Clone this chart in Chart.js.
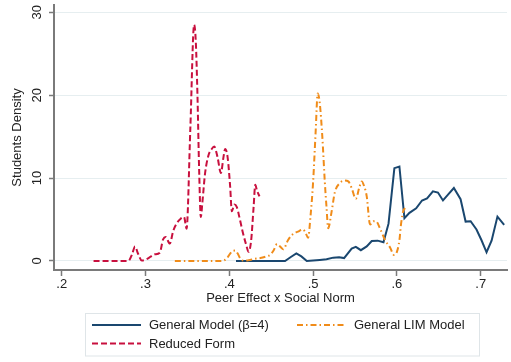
<!DOCTYPE html>
<html>
<head>
<meta charset="utf-8">
<script src="https://cdn.jsdelivr.net/npm/chart.js@4/dist/chart.umd.min.js"></script>
<style>
  html, body { margin: 0; padding: 0; background: #ffffff; }
  #wrap { width: 511px; height: 362px; position: relative; }
</style>
</head>
<body>
<div id="wrap"><canvas id="c" width="511" height="362"></canvas></div>
<script>
// Axis ticks and series labels
const xTickValues = [0.2, 0.3, 0.4, 0.5, 0.6, 0.7];
const yTickValues = [0, 10, 20, 30];
const seriesNames = ['General Model (\u03B2=4)', 'General LIM Model', 'Reduced Form'];

// General Model (beta = 4): density over peer effect x social norm
const generalX = [0.408, 0.420, 0.440, 0.455, 0.4665, 0.473, 0.480, 0.486, 0.4925, 0.500, 0.508, 0.516,
                  0.524, 0.531, 0.537, 0.546, 0.551, 0.557, 0.564, 0.570, 0.577, 0.584, 0.590, 0.597,
                  0.603, 0.609, 0.615, 0.623, 0.630, 0.636, 0.643, 0.649, 0.655, 0.661, 0.668, 0.676,
                  0.682, 0.688, 0.695, 0.701, 0.707, 0.713, 0.720, 0.728];
const generalY = [0, 0, 0, 0, 0, 0.45, 0.9, 0.55, 0, 0.05, 0.12, 0.2,
                  0.4, 0.45, 0.35, 1.5, 1.7, 1.3, 1.75, 2.4, 2.45, 2.25, 4.5, 11.2,
                  11.4, 5.15, 5.8, 6.35, 7.3, 7.55, 8.4, 8.25, 7.3, 8.0, 8.8, 7.45,
                  4.75, 4.8, 3.8, 2.5, 1.05, 2.45, 5.35, 4.35];

// General LIM Model
const limX = [0.335, 0.350, 0.370, 0.390, 0.397, 0.401, 0.404, 0.407, 0.410, 0.413, 0.416, 0.423,
              0.430, 0.437, 0.444, 0.449, 0.453, 0.457, 0.461, 0.4645, 0.470, 0.476, 0.482, 0.488,
              0.491, 0.494, 0.497, 0.500, 0.503, 0.5055, 0.508, 0.511, 0.514, 0.516, 0.518, 0.522,
              0.526, 0.532, 0.538, 0.542, 0.546, 0.551, 0.555, 0.558, 0.561, 0.564, 0.568, 0.572,
              0.575, 0.580, 0.586, 0.592, 0.5965, 0.600, 0.603, 0.605, 0.608, 0.610];
const limY = [0, 0, 0, 0, 0.3, 0.9, 1.2, 1.25, 0.9, 0.3, 0.05, 0.1,
              0.25, 0.35, 0.55, 0.75, 1.3, 2.05, 1.7, 1.4, 2.5, 3.25, 3.55, 3.8,
              3.4, 2.8, 5.5, 9.5, 15.5, 20.2, 19.0, 15.0, 9.5, 6.5, 3.95, 5.9,
              8.3, 9.4, 9.7, 9.6, 8.8, 7.5, 8.8, 9.6, 9.0, 7.8, 4.4, 4.8,
              4.8, 3.9, 2.5, 1.6, 0.72, 1.1, 2.5, 4.5, 6.15, 6.35];

// Reduced Form
const reducedX = [0.238, 0.248, 0.258, 0.268, 0.2795, 0.284, 0.2875, 0.291, 0.2955, 0.302, 0.311, 0.317,
                  0.321, 0.324, 0.329, 0.333, 0.337, 0.342, 0.346, 0.349, 0.3535, 0.358, 0.360, 0.362,
                  0.364, 0.366, 0.368, 0.371, 0.375, 0.379, 0.382, 0.386, 0.390, 0.393, 0.395, 0.398,
                  0.401, 0.403, 0.406, 0.409, 0.412, 0.416, 0.420, 0.423, 0.426, 0.429, 0.431, 0.433,
                  0.436];
const reducedY = [0, 0, 0, 0, 0, 0.8, 1.75, 0.9, 0.05, 0.25, 0.8, 1.0,
                  2.6, 2.9, 2.1, 3.6, 4.5, 5.1, 5.3, 3.9, 16.0, 28.5, 26.5, 20.0,
                  11.0, 5.3, 7.2, 10.5, 12.7, 13.5, 13.8, 12.5, 10.6, 12.5, 13.5, 12.5,
                  9.0, 6.0, 6.8, 6.5, 5.3, 3.5, 2.0, 1.1, 2.4, 6.5, 9.2, 8.5,
                  7.8];

const toPoints = (xs, ys) => xs.map((v, i) => ({ x: v, y: ys[i] }));

const FONT = '"Liberation Sans", Arial, Helvetica, sans-serif';
const INK = '#222222';
const AXIS = '#7a7a7a';

// Axis titles, rotated y tick labels and the boxed two-column legend
const decorations = {
  id: 'decorations',
  afterDraw(chart) {
    const ctx = chart.ctx;
    const ys = chart.scales.y;
    const area = chart.chartArea;
    ctx.save();
    ctx.fillStyle = INK;
    ctx.font = '13px ' + FONT;

    yTickValues.forEach(v => {
      ctx.save();
      ctx.translate(37.5, ys.getPixelForValue(v));
      ctx.rotate(-Math.PI / 2);
      ctx.textAlign = 'center';
      ctx.textBaseline = 'middle';
      ctx.fillText(String(v), 0, 0);
      ctx.restore();
    });

    ctx.save();
    ctx.translate(17.5, (area.top + area.bottom) / 2);
    ctx.rotate(-Math.PI / 2);
    ctx.textAlign = 'center';
    ctx.textBaseline = 'middle';
    ctx.fillText('Students Density', 0, 0);
    ctx.restore();

    ctx.textAlign = 'center';
    ctx.textBaseline = 'alphabetic';
    ctx.fillText('Peer Effect x Social Norm', (area.left + area.right) / 2, 302);

    // legend box
    ctx.fillStyle = '#ffffff';
    ctx.fillRect(85.5, 313.5, 394, 42.5);
    ctx.strokeStyle = '#dfe5e8';
    ctx.lineWidth = 1;
    ctx.strokeRect(85.5, 313.5, 394, 42.5);

    const slots = [
      { x: 92, y: 325 },
      { x: 297, y: 325 },
      { x: 92, y: 343.5 }
    ];
    chart.data.datasets.forEach((ds, i) => {
      const s = slots[i];
      ctx.save();
      ctx.strokeStyle = ds.borderColor;
      ctx.lineWidth = 2;
      ctx.setLineDash(ds.borderDash || []);
      ctx.beginPath();
      ctx.moveTo(s.x, s.y);
      ctx.lineTo(s.x + 49, s.y);
      ctx.stroke();
      ctx.restore();
      ctx.fillStyle = INK;
      ctx.textAlign = 'left';
      ctx.textBaseline = 'middle';
      ctx.fillText(ds.label, s.x + 57, s.y + 0.5);
    });
    ctx.restore();
  }
};

new Chart(document.getElementById('c'), {
  type: 'line',
  data: {
    datasets: [
      {
        label: seriesNames[0],
        data: toPoints(generalX, generalY),
        borderColor: '#1a476f',
        borderWidth: 2,
        pointRadius: 0,
        tension: 0,
        order: 3
      },
      {
        label: seriesNames[1],
        data: toPoints(limX, limY),
        borderColor: '#f08c1a',
        borderWidth: 2,
        borderDash: [6, 3, 1.5, 3],
        pointRadius: 0,
        cubicInterpolationMode: 'monotone',
        order: 2
      },
      {
        label: seriesNames[2],
        data: toPoints(reducedX, reducedY),
        borderColor: '#c8103e',
        borderWidth: 2,
        borderDash: [6, 3],
        pointRadius: 0,
        cubicInterpolationMode: 'monotone',
        order: 1
      }
    ]
  },
  options: {
    responsive: false,
    animation: false,
    devicePixelRatio: 1,
    layout: { padding: { top: 5, right: 4, left: 0, bottom: 0 } },
    plugins: { legend: { display: false }, tooltip: { enabled: false } },
    scales: {
      x: {
        type: 'linear',
        min: 0.1908,
        max: 0.7314,
        afterFit(scale) { scale.height = 92; },
        afterBuildTicks(scale) { scale.ticks = xTickValues.map(v => ({ value: v })); },
        grid: { display: true, drawOnChartArea: false, tickLength: 6, tickColor: AXIS, tickWidth: 1.5 },
        border: { display: true, color: AXIS, width: 2 },
        ticks: {
          color: INK,
          font: { family: FONT, size: 13 },
          padding: 1,
          maxRotation: 0,
          autoSkip: false,
          callback: v => String(Math.round(v * 10) / 10).replace(/^0/, '')
        }
      },
      y: {
        type: 'linear',
        min: -1.09,
        max: 30.88,
        afterFit(scale) { scale.width = 54; },
        afterBuildTicks(scale) { scale.ticks = yTickValues.map(v => ({ value: v })); },
        grid: { display: true, drawOnChartArea: true, color: '#e6eef0', lineWidth: 1,
                tickLength: 5, tickColor: AXIS, tickWidth: 1.5 },
        border: { display: true, color: AXIS, width: 2 },
        ticks: { display: false }
      }
    }
  },
  plugins: [decorations]
});
</script>
</body>
</html>
